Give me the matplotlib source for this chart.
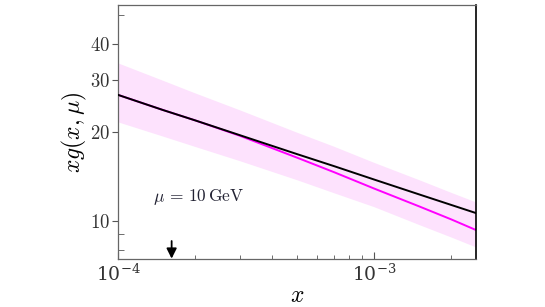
import numpy as np
import matplotlib
matplotlib.use("Agg")
import matplotlib.pyplot as plt
from matplotlib.ticker import FixedLocator, FixedFormatter, NullFormatter

plt.rcParams['mathtext.fontset'] = 'cm'
plt.rcParams['font.family'] = 'serif'
plt.rcParams['font.serif'] = ['DejaVu Serif']

# values
x_vals = [1e-4, 1.5e-4, 2e-4, 3e-4, 5e-4, 7e-4, 1e-3, 1.5e-3, 2e-3, 2.5e-3]
xg_black = [26.8, 23.8, 21.96, 19.54, 16.87, 15.34, 13.83, 12.31, 11.34, 10.64]
xg_magenta = [26.8, 23.8, 21.96, 19.45, 16.41, 14.63, 12.89, 11.21, 10.13, 9.32]
band_upper = [34.4, 30.0, 27.2, 23.8, 20.0, 17.9, 15.8, 13.8, 12.5, 11.6]
band_lower = [21.7, 19.4, 17.9, 16.0, 13.8, 12.45, 11.18, 9.72, 8.82, 8.16]
arrow_x = 1.62e-4
y_ticks = [10, 20, 30, 40]
y_ticklabels = ['$10$', '$20$', '$30$', '$40$']

fig = plt.figure(figsize=(5.45, 3.07), dpi=100)
ax = fig.add_axes([0.2165, 0.1564, 0.6569, 0.8273])

ax.fill_between(x_vals, band_lower, band_upper, color='#fde2fd', lw=0, zorder=1)
ax.plot(x_vals, xg_magenta, color='#ff00ff', lw=1.4, zorder=2)
ax.plot(x_vals, xg_black, color='black', lw=1.4, zorder=3)

ax.set_xscale('log')
ax.set_yscale('log')
ax.set_xlim(1e-4, 2.502e-3)
ax.set_ylim(7.43, 54.1)

ax.yaxis.set_major_locator(FixedLocator(y_ticks))
ax.yaxis.set_major_formatter(FixedFormatter(y_ticklabels))
ax.yaxis.set_minor_locator(FixedLocator([8, 9, 50]))
ax.yaxis.set_minor_formatter(NullFormatter())
ax.xaxis.set_minor_formatter(NullFormatter())

ax.tick_params(axis='y', which='major', direction='out', length=4, color='#555555',
               labelsize=13.5, labelcolor='#333333', right=False, pad=1.5)
ax.tick_params(axis='y', which='minor', direction='in', length=4, color='#555555', right=False)
ax.tick_params(axis='x', which='major', direction='in', length=5, color='#555555',
               labelsize=13.5, labelcolor='#333333', top=False, pad=3)
ax.tick_params(axis='x', which='minor', direction='in', length=3, color='#555555', top=False)

for side in ['left', 'top', 'bottom']:
    ax.spines[side].set_color('#666666')
    ax.spines[side].set_linewidth(0.9)
ax.spines['right'].set_color('black')
ax.spines['right'].set_linewidth(1.2)

ax.set_xlabel('$x$', fontsize=17, labelpad=0)
ax.set_ylabel(r'$xg(x,\mu)$', fontsize=17, labelpad=1)

ax.text(0.097, 0.245, r'$\mu\, =\, 10\,\mathrm{GeV}$', transform=ax.transAxes,
        fontsize=12.5, color='#222233', va='center')

ax.annotate('', xy=(arrow_x, 7.45), xytext=(arrow_x, 8.55),
            arrowprops=dict(arrowstyle='-|>', color='black', lw=1.3,
                            mutation_scale=15, shrinkA=0, shrinkB=0))

fig.savefig('out.png', dpi=100)
